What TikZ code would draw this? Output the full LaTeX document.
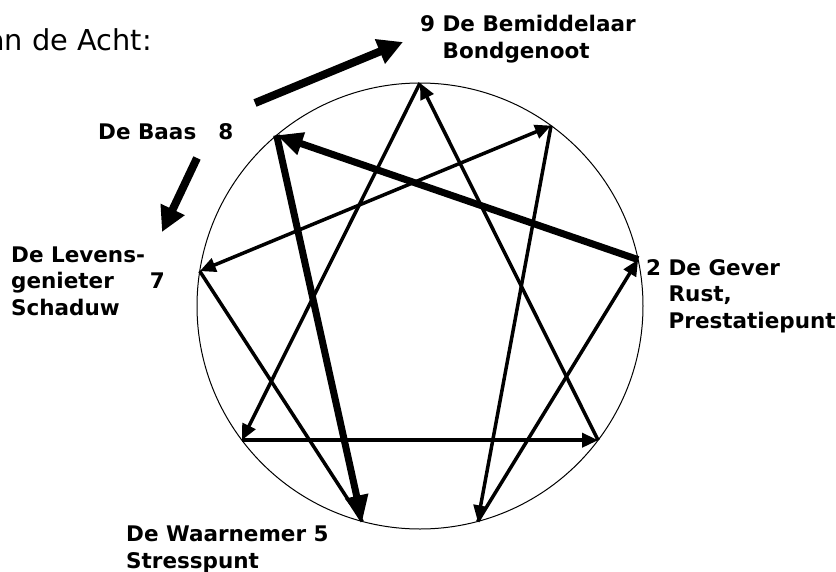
\documentclass[tikz,border=0pt]{standalone}
\usepackage{fontspec}
\setmainfont{DejaVu Sans}
\usetikzlibrary{arrows.meta}
\begin{document}
\begin{tikzpicture}[x=1pt,y=-1pt,
  thinarrow/.style={line width=3.5pt,-{Triangle[length=16pt,width=14pt]}},
  heavyarrow/.style={line width=7pt,-{Triangle[length=26pt,width=22pt]}},
  outerarrow/.style={line width=8pt,-{Triangle[length=25pt,width=25pt]}},
  lbl/.style={font=\bfseries\fontsize{21.5}{26.5}\selectfont,align=left,anchor=base west,inner sep=0pt}]
\useasboundingbox (0,0) rectangle (836,571);
% circle and the nine points on it
\coordinate (c) at (420,306);
\foreach \n/\a in {9/0,1/36,2/78,3/127,4/165,5/195,6/233,7/279,8/320}
  \coordinate (p\n) at ([shift={({\a-90}:223)}]c);
\draw[line width=1pt] (c) circle[radius=223];
% triangle
\draw[thinarrow] (p9) -- (p6);
\draw[thinarrow] (p6) -- (p3);
\draw[thinarrow] (p3) -- (p9);
% hexad
\draw[thinarrow] (p1) -- (p4);
\draw[thinarrow] (p4) -- (p2);
\draw[heavyarrow] (p2) -- (p8);
\draw[heavyarrow] (p8) -- (p5);
\draw[line width=3.5pt] (p5) -- (p7);
\draw[thinarrow,{Triangle[length=16pt,width=14pt]}-{Triangle[length=16pt,width=14pt]}] (p7) -- (p1);
% wings
\coordinate (w9a) at (255,103);
\coordinate (w9b) at (403,42);
\coordinate (w7a) at (197,158);
\coordinate (w7b) at (162,232);
\draw[outerarrow] (w9a) -- (w9b);
\draw[outerarrow] (w7a) -- (w7b);
% texts (base = last line)
\node[font=\fontsize{28.8}{34}\selectfont,anchor=base east,inner sep=0pt] (title) at (152,50) {an de Acht:};
\node[lbl] (l9) at (420,58) {9 De Bemiddelaar\\\hphantom{9 }Bondgenoot};
\node[lbl] (l8) at (98,139) {De Baas\hspace{22pt}8};
\node[lbl] (l7) at (11,315) {De Levens-\\genieter\hspace{36pt}7\\Schaduw};
\node[lbl] (l2) at (646,328) {2 De Gever\\\hphantom{2 }Rust,\\\hphantom{2 }Prestatiepunt};
\node[lbl] (l5) at (126,568) {De Waarnemer 5\\Stresspunt};
\end{tikzpicture}
\end{document}
